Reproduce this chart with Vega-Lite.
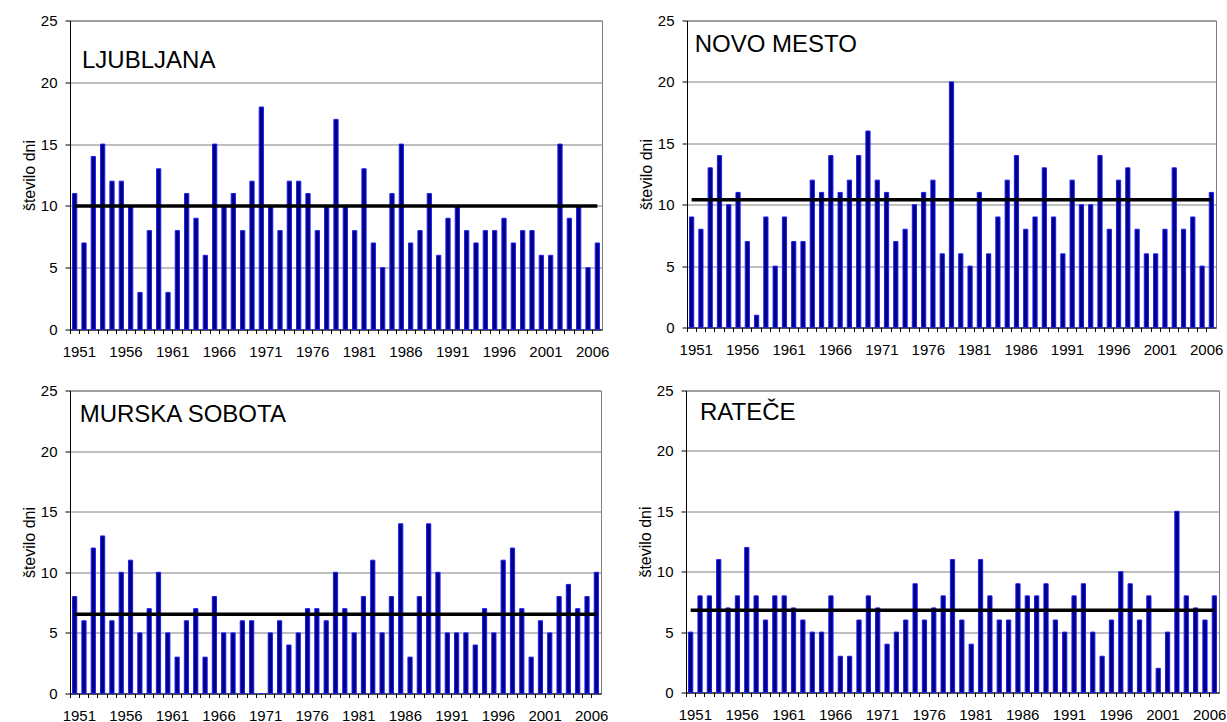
{
  "$schema": "https://vega.github.io/schema/vega-lite/v6.json",
  "background": "white",
  "padding": {"left": 20, "top": 12.5, "right": 0, "bottom": 0},
  "config": {
    "font": "Liberation Sans",
    "axis": {"labelFont": "Liberation Sans", "labelFontSize": 15, "labelColor": "black", "titleFont": "Liberation Sans", "titleFontSize": 16, "titleFontWeight": "normal", "titleColor": "black", "domainColor": "black", "tickColor": "black", "domainWidth": 1},
    "view": {"stroke": "#808080"}
  },
  "datasets": {
    "dni": [
      {"postaja":"LJUBLJANA","leto":1951,"dni":11},{"postaja":"LJUBLJANA","leto":1952,"dni":7},{"postaja":"LJUBLJANA","leto":1953,"dni":14},{"postaja":"LJUBLJANA","leto":1954,"dni":15},{"postaja":"LJUBLJANA","leto":1955,"dni":12},{"postaja":"LJUBLJANA","leto":1956,"dni":12},{"postaja":"LJUBLJANA","leto":1957,"dni":10},{"postaja":"LJUBLJANA","leto":1958,"dni":3},{"postaja":"LJUBLJANA","leto":1959,"dni":8},{"postaja":"LJUBLJANA","leto":1960,"dni":13},
      {"postaja":"LJUBLJANA","leto":1961,"dni":3},{"postaja":"LJUBLJANA","leto":1962,"dni":8},{"postaja":"LJUBLJANA","leto":1963,"dni":11},{"postaja":"LJUBLJANA","leto":1964,"dni":9},{"postaja":"LJUBLJANA","leto":1965,"dni":6},{"postaja":"LJUBLJANA","leto":1966,"dni":15},{"postaja":"LJUBLJANA","leto":1967,"dni":10},{"postaja":"LJUBLJANA","leto":1968,"dni":11},{"postaja":"LJUBLJANA","leto":1969,"dni":8},{"postaja":"LJUBLJANA","leto":1970,"dni":12},
      {"postaja":"LJUBLJANA","leto":1971,"dni":18},{"postaja":"LJUBLJANA","leto":1972,"dni":10},{"postaja":"LJUBLJANA","leto":1973,"dni":8},{"postaja":"LJUBLJANA","leto":1974,"dni":12},{"postaja":"LJUBLJANA","leto":1975,"dni":12},{"postaja":"LJUBLJANA","leto":1976,"dni":11},{"postaja":"LJUBLJANA","leto":1977,"dni":8},{"postaja":"LJUBLJANA","leto":1978,"dni":10},{"postaja":"LJUBLJANA","leto":1979,"dni":17},{"postaja":"LJUBLJANA","leto":1980,"dni":10},
      {"postaja":"LJUBLJANA","leto":1981,"dni":8},{"postaja":"LJUBLJANA","leto":1982,"dni":13},{"postaja":"LJUBLJANA","leto":1983,"dni":7},{"postaja":"LJUBLJANA","leto":1984,"dni":5},{"postaja":"LJUBLJANA","leto":1985,"dni":11},{"postaja":"LJUBLJANA","leto":1986,"dni":15},{"postaja":"LJUBLJANA","leto":1987,"dni":7},{"postaja":"LJUBLJANA","leto":1988,"dni":8},{"postaja":"LJUBLJANA","leto":1989,"dni":11},{"postaja":"LJUBLJANA","leto":1990,"dni":6},
      {"postaja":"LJUBLJANA","leto":1991,"dni":9},{"postaja":"LJUBLJANA","leto":1992,"dni":10},{"postaja":"LJUBLJANA","leto":1993,"dni":8},{"postaja":"LJUBLJANA","leto":1994,"dni":7},{"postaja":"LJUBLJANA","leto":1995,"dni":8},{"postaja":"LJUBLJANA","leto":1996,"dni":8},{"postaja":"LJUBLJANA","leto":1997,"dni":9},{"postaja":"LJUBLJANA","leto":1998,"dni":7},{"postaja":"LJUBLJANA","leto":1999,"dni":8},{"postaja":"LJUBLJANA","leto":2000,"dni":8},
      {"postaja":"LJUBLJANA","leto":2001,"dni":6},{"postaja":"LJUBLJANA","leto":2002,"dni":6},{"postaja":"LJUBLJANA","leto":2003,"dni":15},{"postaja":"LJUBLJANA","leto":2004,"dni":9},{"postaja":"LJUBLJANA","leto":2005,"dni":10},{"postaja":"LJUBLJANA","leto":2006,"dni":5},{"postaja":"LJUBLJANA","leto":2007,"dni":7},

      {"postaja":"NOVO MESTO","leto":1951,"dni":9},{"postaja":"NOVO MESTO","leto":1952,"dni":8},{"postaja":"NOVO MESTO","leto":1953,"dni":13},{"postaja":"NOVO MESTO","leto":1954,"dni":14},{"postaja":"NOVO MESTO","leto":1955,"dni":10},{"postaja":"NOVO MESTO","leto":1956,"dni":11},{"postaja":"NOVO MESTO","leto":1957,"dni":7},{"postaja":"NOVO MESTO","leto":1958,"dni":1},{"postaja":"NOVO MESTO","leto":1959,"dni":9},{"postaja":"NOVO MESTO","leto":1960,"dni":5},
      {"postaja":"NOVO MESTO","leto":1961,"dni":9},{"postaja":"NOVO MESTO","leto":1962,"dni":7},{"postaja":"NOVO MESTO","leto":1963,"dni":7},{"postaja":"NOVO MESTO","leto":1964,"dni":12},{"postaja":"NOVO MESTO","leto":1965,"dni":11},{"postaja":"NOVO MESTO","leto":1966,"dni":14},{"postaja":"NOVO MESTO","leto":1967,"dni":11},{"postaja":"NOVO MESTO","leto":1968,"dni":12},{"postaja":"NOVO MESTO","leto":1969,"dni":14},{"postaja":"NOVO MESTO","leto":1970,"dni":16},
      {"postaja":"NOVO MESTO","leto":1971,"dni":12},{"postaja":"NOVO MESTO","leto":1972,"dni":11},{"postaja":"NOVO MESTO","leto":1973,"dni":7},{"postaja":"NOVO MESTO","leto":1974,"dni":8},{"postaja":"NOVO MESTO","leto":1975,"dni":10},{"postaja":"NOVO MESTO","leto":1976,"dni":11},{"postaja":"NOVO MESTO","leto":1977,"dni":12},{"postaja":"NOVO MESTO","leto":1978,"dni":6},{"postaja":"NOVO MESTO","leto":1979,"dni":20},{"postaja":"NOVO MESTO","leto":1980,"dni":6},
      {"postaja":"NOVO MESTO","leto":1981,"dni":5},{"postaja":"NOVO MESTO","leto":1982,"dni":11},{"postaja":"NOVO MESTO","leto":1983,"dni":6},{"postaja":"NOVO MESTO","leto":1984,"dni":9},{"postaja":"NOVO MESTO","leto":1985,"dni":12},{"postaja":"NOVO MESTO","leto":1986,"dni":14},{"postaja":"NOVO MESTO","leto":1987,"dni":8},{"postaja":"NOVO MESTO","leto":1988,"dni":9},{"postaja":"NOVO MESTO","leto":1989,"dni":13},{"postaja":"NOVO MESTO","leto":1990,"dni":9},
      {"postaja":"NOVO MESTO","leto":1991,"dni":6},{"postaja":"NOVO MESTO","leto":1992,"dni":12},{"postaja":"NOVO MESTO","leto":1993,"dni":10},{"postaja":"NOVO MESTO","leto":1994,"dni":10},{"postaja":"NOVO MESTO","leto":1995,"dni":14},{"postaja":"NOVO MESTO","leto":1996,"dni":8},{"postaja":"NOVO MESTO","leto":1997,"dni":12},{"postaja":"NOVO MESTO","leto":1998,"dni":13},{"postaja":"NOVO MESTO","leto":1999,"dni":8},{"postaja":"NOVO MESTO","leto":2000,"dni":6},
      {"postaja":"NOVO MESTO","leto":2001,"dni":6},{"postaja":"NOVO MESTO","leto":2002,"dni":8},{"postaja":"NOVO MESTO","leto":2003,"dni":13},{"postaja":"NOVO MESTO","leto":2004,"dni":8},{"postaja":"NOVO MESTO","leto":2005,"dni":9},{"postaja":"NOVO MESTO","leto":2006,"dni":5},{"postaja":"NOVO MESTO","leto":2007,"dni":11},

      {"postaja":"MURSKA SOBOTA","leto":1951,"dni":8},{"postaja":"MURSKA SOBOTA","leto":1952,"dni":6},{"postaja":"MURSKA SOBOTA","leto":1953,"dni":12},{"postaja":"MURSKA SOBOTA","leto":1954,"dni":13},{"postaja":"MURSKA SOBOTA","leto":1955,"dni":6},{"postaja":"MURSKA SOBOTA","leto":1956,"dni":10},{"postaja":"MURSKA SOBOTA","leto":1957,"dni":11},{"postaja":"MURSKA SOBOTA","leto":1958,"dni":5},{"postaja":"MURSKA SOBOTA","leto":1959,"dni":7},{"postaja":"MURSKA SOBOTA","leto":1960,"dni":10},
      {"postaja":"MURSKA SOBOTA","leto":1961,"dni":5},{"postaja":"MURSKA SOBOTA","leto":1962,"dni":3},{"postaja":"MURSKA SOBOTA","leto":1963,"dni":6},{"postaja":"MURSKA SOBOTA","leto":1964,"dni":7},{"postaja":"MURSKA SOBOTA","leto":1965,"dni":3},{"postaja":"MURSKA SOBOTA","leto":1966,"dni":8},{"postaja":"MURSKA SOBOTA","leto":1967,"dni":5},{"postaja":"MURSKA SOBOTA","leto":1968,"dni":5},{"postaja":"MURSKA SOBOTA","leto":1969,"dni":6},{"postaja":"MURSKA SOBOTA","leto":1970,"dni":6},
      {"postaja":"MURSKA SOBOTA","leto":1971,"dni":0},{"postaja":"MURSKA SOBOTA","leto":1972,"dni":5},{"postaja":"MURSKA SOBOTA","leto":1973,"dni":6},{"postaja":"MURSKA SOBOTA","leto":1974,"dni":4},{"postaja":"MURSKA SOBOTA","leto":1975,"dni":5},{"postaja":"MURSKA SOBOTA","leto":1976,"dni":7},{"postaja":"MURSKA SOBOTA","leto":1977,"dni":7},{"postaja":"MURSKA SOBOTA","leto":1978,"dni":6},{"postaja":"MURSKA SOBOTA","leto":1979,"dni":10},{"postaja":"MURSKA SOBOTA","leto":1980,"dni":7},
      {"postaja":"MURSKA SOBOTA","leto":1981,"dni":5},{"postaja":"MURSKA SOBOTA","leto":1982,"dni":8},{"postaja":"MURSKA SOBOTA","leto":1983,"dni":11},{"postaja":"MURSKA SOBOTA","leto":1984,"dni":5},{"postaja":"MURSKA SOBOTA","leto":1985,"dni":8},{"postaja":"MURSKA SOBOTA","leto":1986,"dni":14},{"postaja":"MURSKA SOBOTA","leto":1987,"dni":3},{"postaja":"MURSKA SOBOTA","leto":1988,"dni":8},{"postaja":"MURSKA SOBOTA","leto":1989,"dni":14},{"postaja":"MURSKA SOBOTA","leto":1990,"dni":10},
      {"postaja":"MURSKA SOBOTA","leto":1991,"dni":5},{"postaja":"MURSKA SOBOTA","leto":1992,"dni":5},{"postaja":"MURSKA SOBOTA","leto":1993,"dni":5},{"postaja":"MURSKA SOBOTA","leto":1994,"dni":4},{"postaja":"MURSKA SOBOTA","leto":1995,"dni":7},{"postaja":"MURSKA SOBOTA","leto":1996,"dni":5},{"postaja":"MURSKA SOBOTA","leto":1997,"dni":11},{"postaja":"MURSKA SOBOTA","leto":1998,"dni":12},{"postaja":"MURSKA SOBOTA","leto":1999,"dni":7},{"postaja":"MURSKA SOBOTA","leto":2000,"dni":3},
      {"postaja":"MURSKA SOBOTA","leto":2001,"dni":6},{"postaja":"MURSKA SOBOTA","leto":2002,"dni":5},{"postaja":"MURSKA SOBOTA","leto":2003,"dni":8},{"postaja":"MURSKA SOBOTA","leto":2004,"dni":9},{"postaja":"MURSKA SOBOTA","leto":2005,"dni":7},{"postaja":"MURSKA SOBOTA","leto":2006,"dni":8},{"postaja":"MURSKA SOBOTA","leto":2007,"dni":10},

      {"postaja":"RATEČE","leto":1951,"dni":5},{"postaja":"RATEČE","leto":1952,"dni":8},{"postaja":"RATEČE","leto":1953,"dni":8},{"postaja":"RATEČE","leto":1954,"dni":11},{"postaja":"RATEČE","leto":1955,"dni":7},{"postaja":"RATEČE","leto":1956,"dni":8},{"postaja":"RATEČE","leto":1957,"dni":12},{"postaja":"RATEČE","leto":1958,"dni":8},{"postaja":"RATEČE","leto":1959,"dni":6},{"postaja":"RATEČE","leto":1960,"dni":8},
      {"postaja":"RATEČE","leto":1961,"dni":8},{"postaja":"RATEČE","leto":1962,"dni":7},{"postaja":"RATEČE","leto":1963,"dni":6},{"postaja":"RATEČE","leto":1964,"dni":5},{"postaja":"RATEČE","leto":1965,"dni":5},{"postaja":"RATEČE","leto":1966,"dni":8},{"postaja":"RATEČE","leto":1967,"dni":3},{"postaja":"RATEČE","leto":1968,"dni":3},{"postaja":"RATEČE","leto":1969,"dni":6},{"postaja":"RATEČE","leto":1970,"dni":8},
      {"postaja":"RATEČE","leto":1971,"dni":7},{"postaja":"RATEČE","leto":1972,"dni":4},{"postaja":"RATEČE","leto":1973,"dni":5},{"postaja":"RATEČE","leto":1974,"dni":6},{"postaja":"RATEČE","leto":1975,"dni":9},{"postaja":"RATEČE","leto":1976,"dni":6},{"postaja":"RATEČE","leto":1977,"dni":7},{"postaja":"RATEČE","leto":1978,"dni":8},{"postaja":"RATEČE","leto":1979,"dni":11},{"postaja":"RATEČE","leto":1980,"dni":6},
      {"postaja":"RATEČE","leto":1981,"dni":4},{"postaja":"RATEČE","leto":1982,"dni":11},{"postaja":"RATEČE","leto":1983,"dni":8},{"postaja":"RATEČE","leto":1984,"dni":6},{"postaja":"RATEČE","leto":1985,"dni":6},{"postaja":"RATEČE","leto":1986,"dni":9},{"postaja":"RATEČE","leto":1987,"dni":8},{"postaja":"RATEČE","leto":1988,"dni":8},{"postaja":"RATEČE","leto":1989,"dni":9},{"postaja":"RATEČE","leto":1990,"dni":6},
      {"postaja":"RATEČE","leto":1991,"dni":5},{"postaja":"RATEČE","leto":1992,"dni":8},{"postaja":"RATEČE","leto":1993,"dni":9},{"postaja":"RATEČE","leto":1994,"dni":5},{"postaja":"RATEČE","leto":1995,"dni":3},{"postaja":"RATEČE","leto":1996,"dni":6},{"postaja":"RATEČE","leto":1997,"dni":10},{"postaja":"RATEČE","leto":1998,"dni":9},{"postaja":"RATEČE","leto":1999,"dni":6},{"postaja":"RATEČE","leto":2000,"dni":8},
      {"postaja":"RATEČE","leto":2001,"dni":2},{"postaja":"RATEČE","leto":2002,"dni":5},{"postaja":"RATEČE","leto":2003,"dni":15},{"postaja":"RATEČE","leto":2004,"dni":8},{"postaja":"RATEČE","leto":2005,"dni":7},{"postaja":"RATEČE","leto":2006,"dni":6},{"postaja":"RATEČE","leto":2007,"dni":8}
    ],
    "povprecje": [
      {"postaja":"LJUBLJANA","povprecje":10.0},
      {"postaja":"NOVO MESTO","povprecje":10.4},
      {"postaja":"MURSKA SOBOTA","povprecje":6.53},
      {"postaja":"RATEČE","povprecje":6.8}
    ]
  },
  "columns": 1,
  "align": "none",
  "spacing": 22,
  "concat": [
    {
      "hconcat": [
        {
          "width": 532, "height": 309,
          "layer": [
            {"data": {"name": "dni"}, "transform": [{"filter": "datum.postaja === 'LJUBLJANA'"}],
             "mark": {"type": "bar", "width": {"band": 0.45}, "fill": "#000080", "stroke": "#1a1aff", "strokeWidth": 1},
             "encoding": {
               "x": {"field": "leto", "type": "ordinal", "scale": {"paddingInner": 0, "paddingOuter": 0},
                     "axis": {"title": null, "bandPosition": 0, "labelOffset": 4.67, "labelAngle": 0, "tickSize": 4, "labelPadding": 11, "labelOverlap": false, "labelExpr": "(datum.value - 1951) % 5 === 0 ? datum.label : ''"}},
               "y": {"field": "dni", "type": "quantitative", "scale": {"domain": [0, 25], "nice": false},
                     "axis": {"title": "število dni", "values": [0,5,10,15,20,25], "gridColor": "#808080", "tickSize": 5, "labelPadding": 8, "titlePadding": 3}}
             }},
            {"data": {"name": "povprecje"}, "transform": [{"filter": "datum.postaja === 'LJUBLJANA'"}],
             "mark": {"type": "rule", "color": "black", "strokeWidth": 3.5},
             "encoding": {"x": {"datum": 1951, "type": "ordinal", "bandPosition": 0.5}, "x2": {"datum": 2007}, "y": {"field": "povprecje", "type": "quantitative"}}},
            {"data": {"name": "povprecje"}, "transform": [{"filter": "datum.postaja === 'LJUBLJANA'"}],
             "mark": {"type": "text", "align": "left", "baseline": "middle", "fontSize": 24, "font": "Liberation Sans", "color": "black", "dx": -2},
             "encoding": {"x": {"datum": 1952, "type": "ordinal"}, "y": {"datum": 21.7, "type": "quantitative"}, "text": {"field": "postaja"}}}
          ]
        },
        {
          "width": 529, "height": 307,
          "layer": [
            {"data": {"name": "dni"}, "transform": [{"filter": "datum.postaja === 'NOVO MESTO'"}],
             "mark": {"type": "bar", "width": {"band": 0.45}, "fill": "#000080", "stroke": "#1a1aff", "strokeWidth": 1},
             "encoding": {
               "x": {"field": "leto", "type": "ordinal", "scale": {"paddingInner": 0, "paddingOuter": 0},
                     "axis": {"title": null, "bandPosition": 0, "labelOffset": 4.64, "labelAngle": 0, "tickSize": 4, "labelPadding": 11, "labelOverlap": false, "labelExpr": "(datum.value - 1951) % 5 === 0 ? datum.label : ''"}},
               "y": {"field": "dni", "type": "quantitative", "scale": {"domain": [0, 25], "nice": false},
                     "axis": {"title": "število dni", "values": [0,5,10,15,20,25], "gridColor": "#808080", "tickSize": 5, "labelPadding": 8, "titlePadding": 3}}
             }},
            {"data": {"name": "povprecje"}, "transform": [{"filter": "datum.postaja === 'NOVO MESTO'"}],
             "mark": {"type": "rule", "color": "black", "strokeWidth": 3.5},
             "encoding": {"x": {"datum": 1951, "type": "ordinal", "bandPosition": 0.5}, "x2": {"datum": 2007}, "y": {"field": "povprecje", "type": "quantitative"}}},
            {"data": {"name": "povprecje"}, "transform": [{"filter": "datum.postaja === 'NOVO MESTO'"}],
             "mark": {"type": "text", "align": "left", "baseline": "middle", "fontSize": 24, "font": "Liberation Sans", "color": "black", "dx": 3},
             "encoding": {"x": {"datum": 1951, "type": "ordinal"}, "y": {"datum": 23.0, "type": "quantitative"}, "text": {"field": "postaja"}}}
          ]
        }
      ],
      "spacing": 85,
      "bounds": "flush"
    },
    {
      "hconcat": [
        {
          "width": 531, "height": 303,
          "layer": [
            {"data": {"name": "dni"}, "transform": [{"filter": "datum.postaja === 'MURSKA SOBOTA'"}],
             "mark": {"type": "bar", "width": {"band": 0.45}, "fill": "#000080", "stroke": "#1a1aff", "strokeWidth": 1},
             "encoding": {
               "x": {"field": "leto", "type": "ordinal", "scale": {"paddingInner": 0, "paddingOuter": 0},
                     "axis": {"title": null, "bandPosition": 0, "labelOffset": 4.66, "labelAngle": 0, "tickSize": 4, "labelPadding": 11, "labelOverlap": false, "labelExpr": "(datum.value - 1951) % 5 === 0 ? datum.label : ''"}},
               "y": {"field": "dni", "type": "quantitative", "scale": {"domain": [0, 25], "nice": false},
                     "axis": {"title": "število dni", "values": [0,5,10,15,20,25], "gridColor": "#808080", "tickSize": 5, "labelPadding": 8, "titlePadding": 3}}
             }},
            {"data": {"name": "povprecje"}, "transform": [{"filter": "datum.postaja === 'MURSKA SOBOTA'"}],
             "mark": {"type": "rule", "color": "black", "strokeWidth": 3.5},
             "encoding": {"x": {"datum": 1951, "type": "ordinal", "bandPosition": 0.5}, "x2": {"datum": 2007}, "y": {"field": "povprecje", "type": "quantitative"}}},
            {"data": {"name": "povprecje"}, "transform": [{"filter": "datum.postaja === 'MURSKA SOBOTA'"}],
             "mark": {"type": "text", "align": "left", "baseline": "middle", "fontSize": 24, "font": "Liberation Sans", "color": "black", "dx": 5},
             "encoding": {"x": {"datum": 1951, "type": "ordinal"}, "y": {"datum": 23.0, "type": "quantitative"}, "text": {"field": "postaja"}}}
          ]
        },
        {
          "width": 533, "height": 302,
          "layer": [
            {"data": {"name": "dni"}, "transform": [{"filter": "datum.postaja === 'RATEČE'"}],
             "mark": {"type": "bar", "width": {"band": 0.45}, "fill": "#000080", "stroke": "#1a1aff", "strokeWidth": 1},
             "encoding": {
               "x": {"field": "leto", "type": "ordinal", "scale": {"paddingInner": 0, "paddingOuter": 0},
                     "axis": {"title": null, "bandPosition": 0, "labelOffset": 4.68, "labelAngle": 0, "tickSize": 4, "labelPadding": 11, "labelOverlap": false, "labelExpr": "(datum.value - 1951) % 5 === 0 ? datum.label : ''"}},
               "y": {"field": "dni", "type": "quantitative", "scale": {"domain": [0, 25], "nice": false},
                     "axis": {"title": "število dni", "values": [0,5,10,15,20,25], "gridColor": "#808080", "tickSize": 5, "labelPadding": 8, "titlePadding": 3}}
             }},
            {"data": {"name": "povprecje"}, "transform": [{"filter": "datum.postaja === 'RATEČE'"}],
             "mark": {"type": "rule", "color": "black", "strokeWidth": 3.5},
             "encoding": {"x": {"datum": 1951, "type": "ordinal", "bandPosition": 0.5}, "x2": {"datum": 2007}, "y": {"field": "povprecje", "type": "quantitative"}}},
            {"data": {"name": "povprecje"}, "transform": [{"filter": "datum.postaja === 'RATEČE'"}],
             "mark": {"type": "text", "align": "left", "baseline": "middle", "fontSize": 24, "font": "Liberation Sans", "color": "black"},
             "encoding": {"x": {"datum": 1952, "type": "ordinal"}, "y": {"datum": 23.1, "type": "quantitative"}, "text": {"field": "postaja"}}}
          ]
        }
      ],
      "spacing": 85,
      "bounds": "flush"
    }
  ]
}
